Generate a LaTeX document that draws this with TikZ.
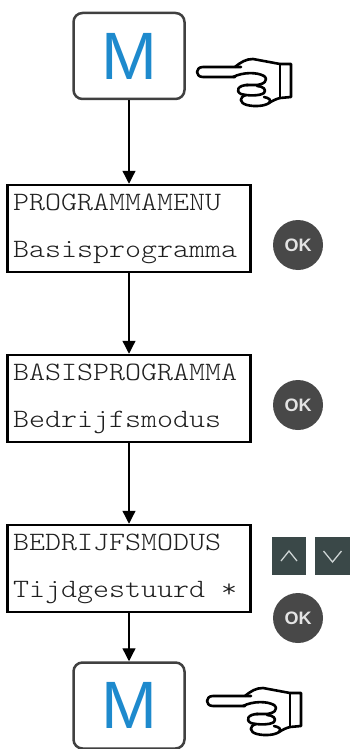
\documentclass[tikz,border=0pt]{standalone}
\usepackage{fontspec}
\setmainfont{Liberation Sans}
\newfontfamily\monofont{lmmonolt10-regular.otf}[FakeStretch=1.15]
\usetikzlibrary{arrows.meta}
\definecolor{mblue}{RGB}{30,138,205}
\definecolor{mborder}{RGB}{64,64,64}
\definecolor{okgray}{RGB}{72,72,72}
\definecolor{oktext}{RGB}{228,228,228}
\definecolor{navgray}{RGB}{58,72,72}
\definecolor{chevcol}{RGB}{205,212,212}
\tikzset{
  mbtn/.style={draw=mborder, line width=2.5pt, rounded corners=9pt, fill=white,
    minimum width=111pt, minimum height=86pt, inner sep=0pt, text=mblue,
    font=\fontsize{67}{67}\selectfont},
  lcd/.style={draw=black, line width=2.5pt, minimum width=243pt, minimum height=87pt, inner sep=0pt},
  lcdtxt/.style={anchor=base west, inner sep=0pt, font=\monofont\fontsize{26.5}{26.5}\selectfont, text=black!88},
  okb/.style={circle, fill=okgray, minimum size=50pt, inner sep=0pt, text=oktext,
    font=\bfseries\fontsize{18}{18}\selectfont},
  nav/.style={fill=navgray, minimum width=34pt, minimum height=38pt, inner sep=0pt},
  chev/.style={draw=chevcol, line width=1.3pt},
  arr/.style={line width=1.3pt, -{Triangle[width=13pt,length=13pt]}},
  handline/.style={line width=2.6pt, line join=round, line cap=round},
  hand/.pic={
    \draw[handline] (50,15) -- (12,15) .. controls (4,15) and (4,25) .. (12,25) -- (44,25);
    \draw[handline] (44,15) .. controls (50,10) and (55,7) .. (62,7) -- (89,12) -- (100,12)
       -- (100,45) -- (89,46) .. controls (85,47) and (81,49) .. (78,51);
    \draw[handline] (89,12) -- (89,46);
    \draw[handline] (42,25) .. controls (52,20) and (66,20) .. (73,24)
       .. controls (78,28) and (73,33) .. (64,33) -- (55,33);
    \draw[handline] (57,33) .. controls (47,33) and (44,39) .. (50,42)
       .. controls (57,44) and (69,44) .. (73,41) .. controls (76,38) and (72,34) .. (66,34);
    \draw[handline] (55,43) .. controls (48,45) and (48,51) .. (56,53)
       .. controls (64,55) and (74,54) .. (78,51) .. controls (81,48) and (78,46) .. (73,45);
  }
}
\begin{document}
\begin{tikzpicture}[x=1pt,y=-1pt]
\useasboundingbox (0,0) rectangle (350,749);
% M buttons
\node[mbtn] (m1) at (129,56) {M};
\node[mbtn] (m2) at (129,705.5) {M};
% LCD boxes
\node[lcd] (b1) at (129,228.5) {};
\node[lcd] (b2) at (129,398.5) {};
\node[lcd] (b3) at (129,568.5) {};
\node[lcdtxt] (b1a) at (13,210) {PROGRAMMAMENU};
\node[lcdtxt] (b1b) at (13,257.5) {Basisprogramma};
\node[lcdtxt] (b2a) at (13,380) {BASISPROGRAMMA};
\node[lcdtxt] (b2b) at (13,427.5) {Bedrijfsmodus};
\node[lcdtxt] (b3a) at (13,550) {BEDRIJFSMODUS};
\node[lcdtxt] (b3b) at (13,597.5) {Tijdgestuurd *};
% connectors
\draw[arr] (m1) -- (b1);
\draw[arr] (b1) -- (b2);
\draw[arr] (b2) -- (b3);
\draw[arr] (b3) -- (m2);
% OK buttons
\node[okb] (ok1) at (298,245) {OK};
\node[okb] (ok2) at (298,405) {OK};
\node[okb] (ok3) at (298,618) {OK};
% navigation buttons
\node[nav] (up) at (289,556) {};
\node[nav, minimum width=35pt] (down) at (332.5,556) {};
\draw[chev] ([shift={(-8,5)}]up.center) -- ([shift={(0,-5)}]up.center) -- ([shift={(8,5)}]up.center);
\draw[chev] ([shift={(-9,-5)}]down.center) -- ([shift={(0,6)}]down.center) -- ([shift={(9,-5)}]down.center);
% hands
\pic (h1) at (191,52) {hand};
\pic (h2) at (201,681) {hand};
\end{tikzpicture}
\end{document}
